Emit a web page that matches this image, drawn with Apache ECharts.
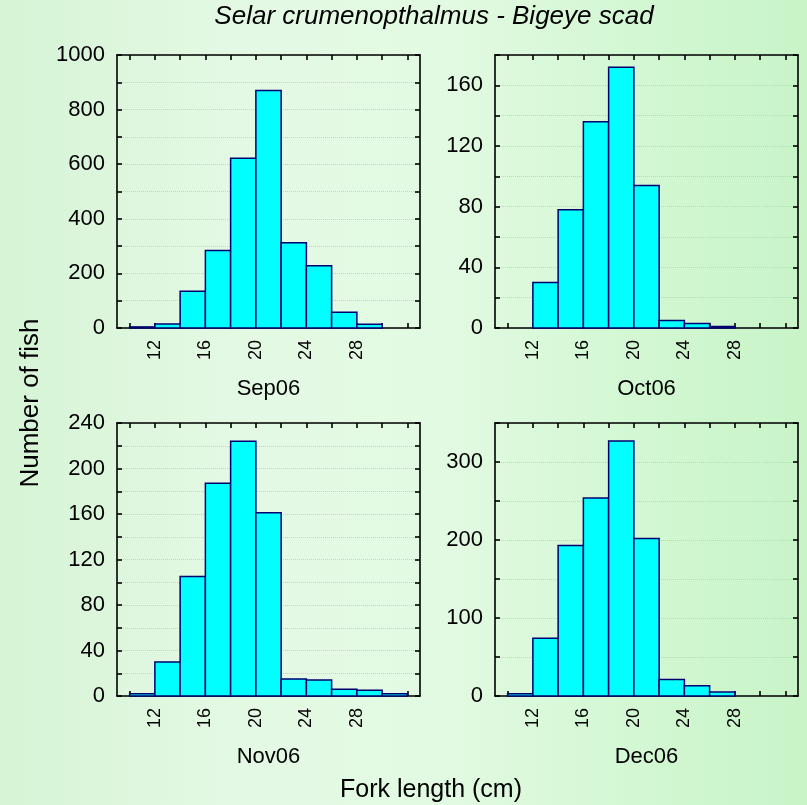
<!DOCTYPE html>
<html>
<head>
<meta charset="utf-8">
<script src="https://cdn.jsdelivr.net/npm/echarts@6.0.0/dist/echarts.min.js"></script>
<style>
    html, body { margin: 0; padding: 0; }
    #chart { width: 807px; height: 805px; }
</style>
</head>
<body>
<div id="chart"></div>
<script>
// 每个长度组的起点（组宽 2 cm）
var binStarts = [10, 12, 14, 16, 18, 20, 22, 24, 26, 28, 30];
var binWidth = 2;

// 各月的数量
var sepCounts = [4, 15, 135, 284, 622, 870, 312, 228, 58, 14, 0];
var octCounts = [0, 30, 78, 136, 172, 94, 5, 3, 1, 0, 0];
var novCounts = [2, 30, 105, 187, 224, 161, 15, 14, 6, 5, 2];
var decCounts = [3, 74, 193, 254, 327, 202, 21, 13, 5, 0, 0];

var panelNames = ['Sep06', 'Oct06', 'Nov06', 'Dec06'];

// 坐标轴刻度
var xTickValues = [10, 12, 14, 16, 18, 20, 22, 24, 26, 28, 30, 32];
var xLabelValues = [12, 16, 20, 24, 28];
var sepYLabels = [0, 200, 400, 600, 800, 1000];
var octYLabels = [0, 40, 80, 120, 160];
var novYLabels = [0, 40, 80, 120, 160, 200, 240];
var decYLabels = [0, 100, 200, 300];
var yMaxes = [1000, 180, 240, 350];
var ySteps = [100, 20, 20, 50];

var allCounts = [sepCounts, octCounts, novCounts, decCounts];
var allYLabels = [sepYLabels, octYLabels, novYLabels, decYLabels];

var myChart = echarts.init(document.getElementById('chart'));

var font = 'Liberation Sans, Arial, sans-serif';
// 四个子图的位置
var grids = [
    { left: 117, top: 55, width: 303, height: 273 },
    { left: 495, top: 55, width: 303, height: 273 },
    { left: 117, top: 423, width: 303, height: 273 },
    { left: 495, top: 423, width: 303, height: 273 }
];

var lineStyle = { color: '#000', width: 1.6 };

function renderBar(params, api) {
    var x0 = api.value(0);
    var x1 = api.value(1);
    var y = api.value(2);
    if (!y) {
        return;
    }
    var p0 = api.coord([x0, y]);
    var p1 = api.coord([x1, 0]);
    return {
        type: 'rect',
        shape: { x: p0[0], y: p0[1], width: p1[0] - p0[0], height: p1[1] - p0[1] },
        style: { fill: '#00ffff', stroke: '#000070', lineWidth: 1.5 }
    };
}

var xAxes = [], yAxes = [], series = [];
for (var i = 0; i < 4; i++) {
    var labels = allYLabels[i];
    xAxes.push({
        type: 'value', gridIndex: i, min: 9, max: 33, position: 'bottom',
        axisLine: { show: true, onZero: false, lineStyle: lineStyle },
        axisTick: { show: true, inside: true, length: 5, customValues: xTickValues, lineStyle: lineStyle },
        axisLabel: {
            customValues: xLabelValues, rotate: 90, margin: 12,
            fontSize: 18, color: '#000', fontFamily: font
        },
        splitLine: { show: false },
        name: panelNames[i], nameLocation: 'middle', nameGap: 50,
        nameTextStyle: { fontSize: 22, color: '#000', fontFamily: font }
    });
    xAxes.push({
        type: 'value', gridIndex: i, min: 9, max: 33, position: 'top',
        axisLine: { show: true, onZero: false, lineStyle: lineStyle },
        axisTick: { show: true, inside: true, length: 5, customValues: xTickValues, lineStyle: lineStyle },
        axisLabel: { show: false },
        splitLine: { show: false }
    });
    yAxes.push({
        type: 'value', gridIndex: i, min: 0, max: yMaxes[i], interval: ySteps[i], position: 'left',
        axisLine: { show: true, lineStyle: lineStyle },
        axisTick: { show: true, inside: true, length: 5, lineStyle: lineStyle },
        axisLabel: {
            margin: 12, fontSize: 22, color: '#000', fontFamily: font,
            formatter: (function (labs) {
                return function (v) { return labs.indexOf(v) >= 0 ? String(v) : ''; };
            })(labels)
        },
        splitLine: { show: true, lineStyle: { color: '#cccccc', type: 'dotted', width: 1 } }
    });
    yAxes.push({
        type: 'value', gridIndex: i, min: 0, max: yMaxes[i], interval: ySteps[i], position: 'right',
        axisLine: { show: true, lineStyle: lineStyle },
        axisTick: { show: true, inside: true, length: 5, lineStyle: lineStyle },
        axisLabel: { show: false },
        splitLine: { show: false }
    });
    var data = [];
    for (var j = 0; j < binStarts.length; j++) {
        data.push([binStarts[j], binStarts[j] + binWidth, allCounts[i][j]]);
    }
    series.push({
        type: 'custom', name: panelNames[i],
        xAxisIndex: 2 * i, yAxisIndex: 2 * i,
        renderItem: renderBar,
        encode: { x: [0, 1], y: 2 },
        data: data,
        clip: false
    });
}

var option = {
    backgroundColor: {
        type: 'linear', x: 0, y: 0, x2: 1, y2: 0,
        colorStops: [
            { offset: 0, color: '#d6f4d6' },
            { offset: 0.3, color: '#e4f9e4' },
            { offset: 0.55, color: '#e2fae2' },
            { offset: 0.8, color: '#d2f7d2' },
            { offset: 1, color: '#c8f4c8' }
        ]
    },
    animation: false,
    grid: grids,
    xAxis: xAxes,
    yAxis: yAxes,
    series: series,
    graphic: [
        {
            type: 'text', x: 434, y: 17,
            style: {
                text: 'Selar crumenopthalmus - Bigeye scad',
                font: 'italic 26px ' + font, fill: '#000',
                textAlign: 'center', textVerticalAlign: 'middle'
            }
        },
        {
            type: 'text', x: 431, y: 790,
            style: {
                text: 'Fork length (cm)',
                font: '25px ' + font, fill: '#000',
                textAlign: 'center', textVerticalAlign: 'middle'
            }
        },
        {
            type: 'text', x: 31, y: 403, rotation: Math.PI / 2,
            style: {
                text: 'Number of fish',
                font: '26px ' + font, fill: '#000',
                textAlign: 'center', textVerticalAlign: 'middle'
            }
        }
    ]
};
myChart.setOption(option);
</script>
</body>
</html>
